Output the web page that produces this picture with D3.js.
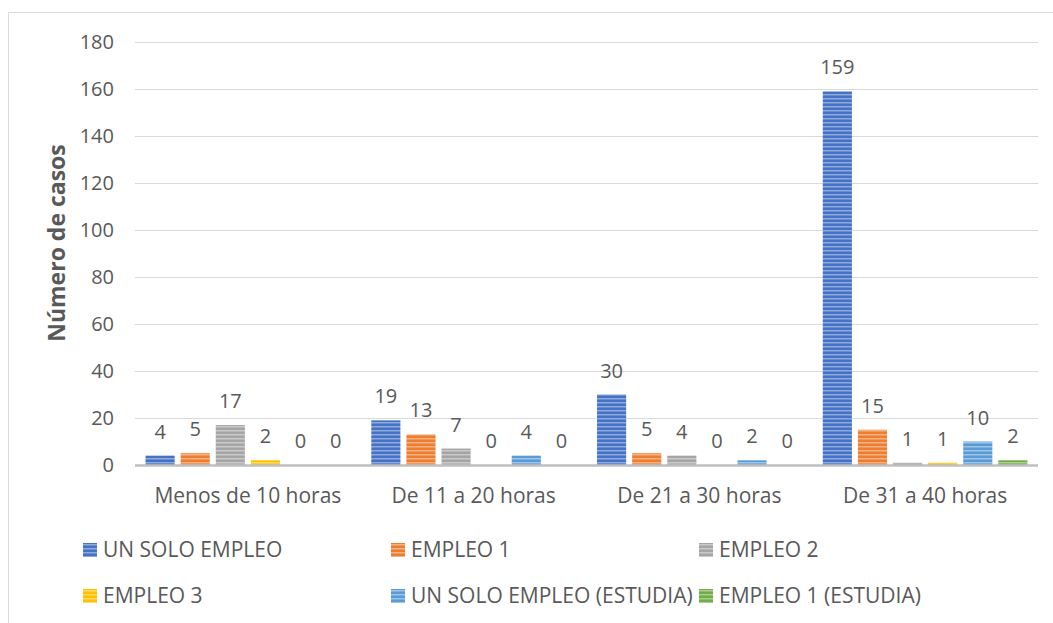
<!DOCTYPE html>
<html>
<head>
<meta charset="utf-8">
<script src="https://cdn.jsdelivr.net/npm/d3@7"></script>
<style>
  * { margin: 0; padding: 0; }
  body { background: #fff; }
  text { font-family: "Open Sans", sans-serif; fill: #595959; }
</style>
</head>
<body>
<div id="chart"></div>
<script>
const categories = ["Menos de 10 horas", "De 11 a 20 horas", "De 21 a 30 horas", "De 31 a 40 horas"];
const seriesNames = ["UN SOLO EMPLEO", "EMPLEO 1", "EMPLEO 2", "EMPLEO 3", "UN SOLO EMPLEO (ESTUDIA)", "EMPLEO 1 (ESTUDIA)"];
const unSoloEmpleo = [4, 19, 30, 159];
const empleo1 = [5, 13, 5, 15];
const empleo2 = [17, 7, 4, 1];
const empleo3 = [2, 0, 0, 1];
const unSoloEstudia = [0, 4, 2, 10];
const empleo1Estudia = [0, 0, 0, 2];
const yTicks = [0, 20, 40, 60, 80, 100, 120, 140, 160, 180];
const colors = ["#4472C4", "#ED7D31", "#A5A5A5", "#FFC000", "#5B9BD5", "#70AD47"];

const seriesValues = [unSoloEmpleo, empleo1, empleo2, empleo3, unSoloEstudia, empleo1Estudia];

const w = 1053, h = 623;
const svg = d3.select("#chart").append("svg").attr("width", w).attr("height", h);

// striped fills
const defs = svg.append("defs");
colors.forEach((c, i) => {
  const p = defs.append("pattern")
    .attr("id", "pat" + i)
    .attr("patternUnits", "userSpaceOnUse")
    .attr("width", 4).attr("height", 4);
  p.append("rect").attr("width", 4).attr("height", 4).attr("fill", c);
  p.append("rect").attr("y", 2).attr("width", 4).attr("height", 1.5)
    .attr("fill", "#fff").attr("opacity", 0.4);
});

// outer frame
svg.append("rect")
  .attr("x", 8.5).attr("y", 12.5)
  .attr("width", 1100).attr("height", 700)
  .attr("fill", "none").attr("stroke", "#d9d9d9");

const x0 = d3.scaleBand().domain(categories).range([135, 1038]).paddingInner(0).paddingOuter(0);
const x1 = d3.scaleBand().domain(seriesNames).range([0, x0.bandwidth()]).paddingInner(0.17).paddingOuter(0.3);
const y = d3.scaleLinear().domain([0, 180]).range([465, 42]);

// gridlines
svg.append("g").selectAll("line").data(yTicks.slice(1)).enter().append("line")
  .attr("x1", 135).attr("x2", 1038)
  .attr("y1", d => Math.round(y(d)) + 0.5).attr("y2", d => Math.round(y(d)) + 0.5)
  .attr("stroke", "#d9d9d9").attr("stroke-width", 1);

// y axis labels
const yAxis = d3.axisLeft(y).tickValues(yTicks).tickSize(0).tickPadding(0);
const gy = svg.append("g").attr("transform", "translate(114,0)").call(yAxis);
gy.select(".domain").remove();
gy.selectAll("text").style("font-size", "20px").attr("fill", "#595959")
  .style("font-family", "'Open Sans', sans-serif");

// bars
const groups = svg.append("g").selectAll("g").data(categories).enter().append("g")
  .attr("transform", d => `translate(${x0(d)},0)`);

groups.each(function(cat, ci) {
  const g = d3.select(this);
  const data = seriesNames.map((s, si) => ({ s, si, v: seriesValues[si][ci] }));
  g.selectAll("rect").data(data).enter().append("rect")
    .attr("x", d => x1(d.s))
    .attr("width", x1.bandwidth())
    .attr("y", d => y(d.v))
    .attr("height", d => y(0) - y(d.v))
    .attr("fill", d => `url(#pat${d.si})`);
  g.selectAll("text.val").data(data).enter().append("text")
    .attr("class", "val")
    .attr("x", d => x1(d.s) + x1.bandwidth() / 2)
    .attr("y", d => y(d.v) - 17)
    .attr("text-anchor", "middle")
    .style("font-size", "20px")
    .attr("fill", "#404040")
    .text(d => d.v);
});

// x axis
svg.append("line")
  .attr("x1", 135).attr("x2", 1038).attr("y1", 465.5).attr("y2", 465.5)
  .attr("stroke", "#bfbfbf").attr("stroke-width", 2.5);

const xAxis = d3.axisBottom(x0).tickSize(0).tickPadding(0);
const gx = svg.append("g").attr("transform", "translate(0,488)").call(xAxis);
gx.select(".domain").remove();
gx.selectAll("text").style("font-size", "21px").attr("fill", "#595959")
  .style("font-family", "'Open Sans', sans-serif");

// y title
svg.append("text")
  .attr("transform", "translate(65,243) rotate(-90)")
  .attr("text-anchor", "middle")
  .style("font-size", "23px").style("font-weight", "bold")
  .text("Número de casos");

// legend
const legendPos = [[83, 550], [391, 550], [699, 550], [83, 596], [391, 596], [699, 596]];
const lg = svg.append("g").selectAll("g").data(seriesNames).enter().append("g")
  .attr("transform", (d, i) => `translate(${legendPos[i][0]},${legendPos[i][1]})`);
lg.append("rect").attr("x", 0).attr("y", -7).attr("width", 14).attr("height", 14)
  .attr("fill", (d, i) => `url(#pat${i})`);
lg.append("text").attr("x", 20).attr("y", 7)
  .style("font-size", "21px").attr("fill", "#595959").text(d => d);
</script>
</body>
</html>
